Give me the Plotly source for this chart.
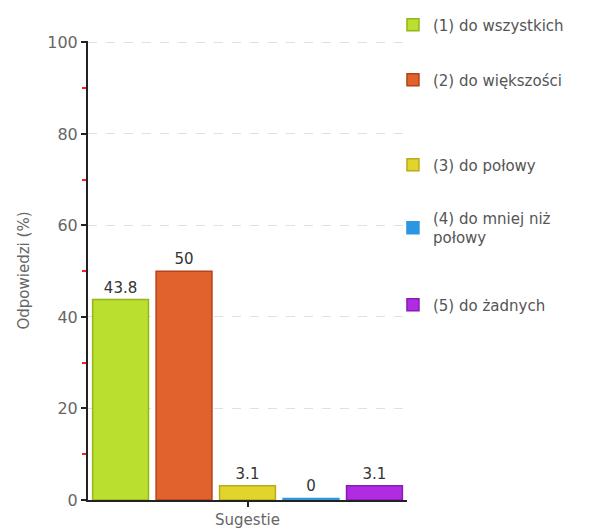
import plotly.graph_objects as go

category = ["Sugestie"]
series_names = ["(1) do wszystkich", "(2) do większości", "(3) do połowy",
                "(4) do mniej niż<br>połowy", "(5) do żadnych"]
values = [43.8, 50, 3.1, 0, 3.1]
labels = ["43.8", "50", "3.1", "0", "3.1"]
fill_colors = ["#bbdf2f", "#e0632e", "#e1d42c", "#2c97e0", "#b02ce0"]
line_colors = ["#94b51c", "#b5421a", "#b8ac1a", "#2c97e0", "#8a1ab8"]
legend_y = [1.035, 0.915, 0.730, 0.593, 0.425]

# the original renders zero-valued bars as a thin visible strip
MIN_VISIBLE = 0.35

FONT = "DejaVu Sans"
fig = go.Figure()
for i in range(len(values)):
    lname = "legend" if i == 0 else f"legend{i+1}"
    shown = values[i] if values[i] > 0 else MIN_VISIBLE
    fig.add_trace(go.Bar(
        x=category, y=[shown], name=series_names[i],
        marker=dict(color=fill_colors[i], line=dict(color=line_colors[i], width=1.5)),
        text=[labels[i]], textposition="outside", cliponaxis=False,
        textfont=dict(family=FONT, size=15, color="#333333"),
        customdata=[values[i]], hovertemplate="%{customdata}<extra>%{fullData.name}</extra>",
        legend=lname, showlegend=True,
    ))

layout_legends = {}
for i in range(len(values)):
    lname = "legend" if i == 0 else f"legend{i+1}"
    layout_legends[lname] = dict(
        x=0.956, y=legend_y[i], xanchor="left", yanchor="middle",
        font=dict(family=FONT, size=15, color="#555555"),
        bgcolor="rgba(0,0,0,0)", itemwidth=30, visible=True,
    )

fig.update_layout(
    width=603, height=521,
    margin=dict(l=80, r=204, t=33, b=29, autoexpand=False),
    plot_bgcolor="white", paper_bgcolor="white",
    showlegend=True,
    barmode="group", bargap=0.005, bargroupgap=0.12,
    font=dict(family=FONT, size=14, color="#666666"),
    **layout_legends,
)
fig.update_yaxes(
    range=[0, 100.3], dtick=20, showline=True, linecolor="#222222", linewidth=2,
    ticks="outside", ticklen=5, tickcolor="#222222", tickwidth=2,
    tickfont=dict(family=FONT, size=16, color="#666666"),
    showgrid=True, gridcolor="#e0e0e0", griddash="dash", gridwidth=1,
    zeroline=False,
    minor=dict(dtick=10, ticks="outside", ticklen=4, tickcolor="#ff2020", tickwidth=2, showgrid=False),
    title=dict(text="Odpowiedzi (%)", font=dict(family=FONT, size=15, color="#666666"), standoff=14),
)
fig.update_xaxes(
    showline=True, linecolor="#222222", linewidth=2, layer="below traces",
    ticks="outside", ticklen=5, tickcolor="#222222", tickwidth=2,
    tickfont=dict(family=FONT, size=15, color="#666666"),
)
fig.write_html("out.html")
